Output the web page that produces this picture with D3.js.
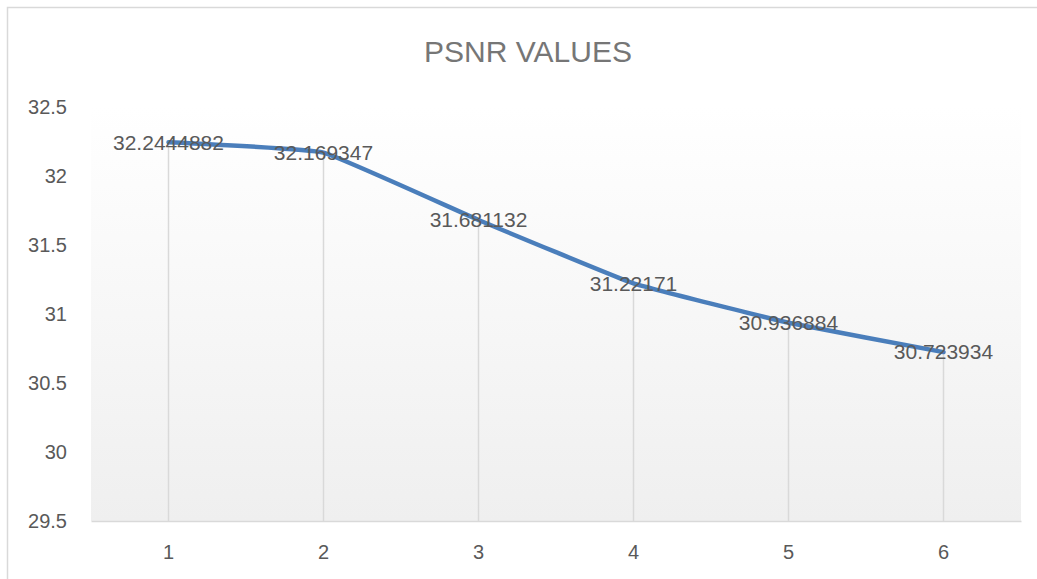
<!DOCTYPE html>
<html>
<head>
<meta charset="utf-8">
<script src="https://cdn.jsdelivr.net/npm/d3@7"></script>
<style>
  body { margin: 0; background: #fff; }
  svg { display: block; font-family: "Liberation Sans", Arial, sans-serif; }
</style>
</head>
<body>
<div id="chart"></div>
<script>
// data
const categories = [1, 2, 3, 4, 5, 6];
const psnrValues = [32.2444882, 32.169347, 31.681132, 31.22171, 30.936884, 30.723934];
const valueLabels = ['32.2444882', '32.169347', '31.681132', '31.22171', '30.936884', '30.723934'];
const yTicks = [29.5, 30, 30.5, 31, 31.5, 32, 32.5];
const chartTitle = 'PSNR VALUES';

const width = 1037, height = 579;
const plot = { left: 91, right: 1021, top: 107, bottom: 521 };

const svg = d3.select('#chart').append('svg')
  .attr('width', width)
  .attr('height', height);

// gradient for plot area
const grad = svg.append('defs').append('linearGradient')
  .attr('id', 'plotGrad')
  .attr('x1', 0).attr('y1', 0).attr('x2', 0).attr('y2', 1);
grad.append('stop').attr('offset', '0%').attr('stop-color', '#ffffff');
grad.append('stop').attr('offset', '100%').attr('stop-color', '#efefef');

// chart border
svg.append('rect')
  .attr('x', 7.5).attr('y', 7.5)
  .attr('width', width + 20).attr('height', height + 20)
  .attr('fill', '#fff')
  .attr('stroke', '#d9d9d9')
  .attr('stroke-width', 1.5);

svg.append('rect')
  .attr('x', plot.left).attr('y', plot.top)
  .attr('width', plot.right - plot.left)
  .attr('height', plot.bottom - plot.top)
  .attr('fill', 'url(#plotGrad)');

const x = d3.scaleBand()
  .domain(categories)
  .range([plot.left, plot.right]);
const xc = d => x(d) + x.bandwidth() / 2;

const y = d3.scaleLinear()
  .domain([29.5, 32.5])
  .range([plot.bottom, plot.top]);

const data = categories.map((c, i) => ({ c, v: psnrValues[i], label: valueLabels[i] }));

// title
svg.append('text')
  .attr('x', 528).attr('y', 62)
  .attr('text-anchor', 'middle')
  .attr('font-size', 30)
  .attr('fill', '#767676')
  .text(chartTitle);

// drop lines
svg.append('g').selectAll('line')
  .data(data)
  .enter().append('line')
  .attr('x1', d => xc(d.c)).attr('x2', d => xc(d.c))
  .attr('y1', d => y(d.v)).attr('y2', plot.bottom)
  .attr('stroke', '#d9d9d9')
  .attr('stroke-width', 1.5);

// x axis
const xAxis = svg.append('g')
  .attr('transform', `translate(0,${plot.bottom})`)
  .call(d3.axisBottom(x).tickSize(0).tickPadding(24));
xAxis.select('.domain').attr('stroke', '#d9d9d9').attr('stroke-width', 1.5);
xAxis.selectAll('text')
  .attr('font-size', 20)
  .attr('fill', '#595959')
  .attr('font-family', 'Liberation Sans, Arial, sans-serif');

// y axis (labels only)
const yAxis = svg.append('g')
  .attr('transform', `translate(${plot.left},0)`)
  .call(d3.axisLeft(y).tickValues(yTicks).tickFormat(d3.format('')).tickSize(0).tickPadding(24));
yAxis.select('.domain').remove();
yAxis.selectAll('text')
  .attr('font-size', 20)
  .attr('fill', '#595959')
  .attr('font-family', 'Liberation Sans, Arial, sans-serif');

// line, lightly smoothed
const line = d3.line()
  .x(d => xc(d.c))
  .y(d => y(d.v))
  .curve(d3.curveCardinal.tension(0.72));

svg.append('path')
  .datum(data)
  .attr('d', line)
  .attr('fill', 'none')
  .attr('stroke', '#4a7ebb')
  .attr('stroke-width', 4.5)
  .attr('stroke-linecap', 'round');

// data labels
svg.append('g').selectAll('text')
  .data(data)
  .enter().append('text')
  .attr('x', d => xc(d.c))
  .attr('y', d => y(d.v))
  .attr('dy', '0.35em')
  .attr('text-anchor', 'middle')
  .attr('font-size', 21)
  .attr('fill', '#595959')
  .text(d => d.label);
</script>
</body>
</html>
